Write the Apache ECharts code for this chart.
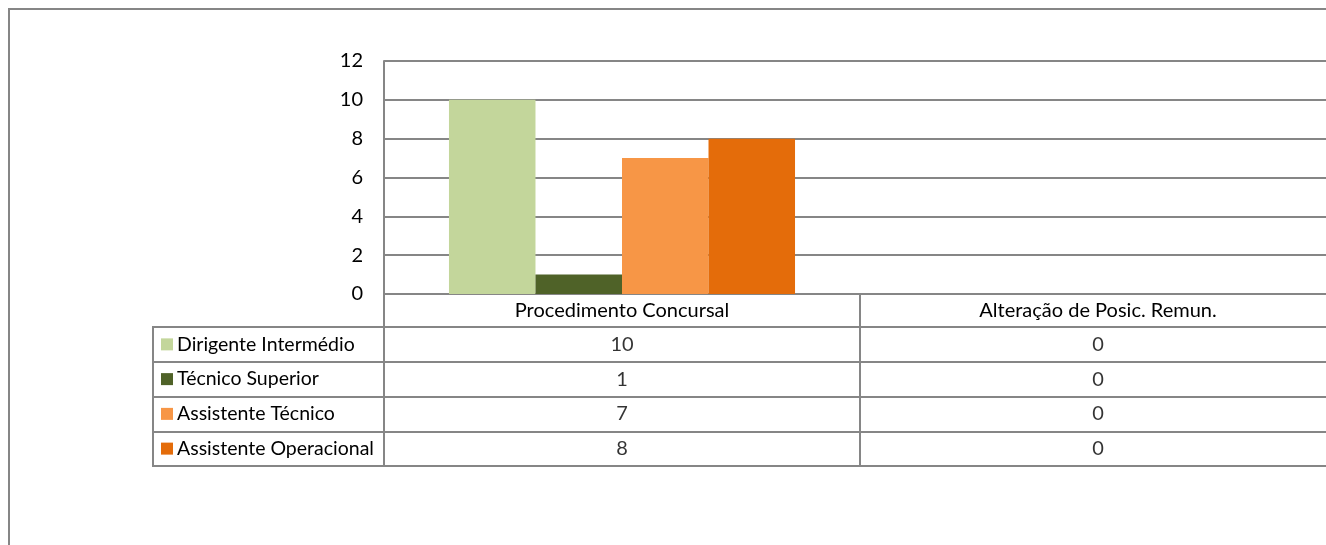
<!DOCTYPE html>
<html><head><meta charset="utf-8">
<script src="https://cdn.jsdelivr.net/npm/echarts@6/dist/echarts.min.js"></script>
<style>html,body{margin:0;padding:0;background:#fff}#c{width:1326px;height:545px}</style>
</head><body><div id="c"></div>
<script>
const categories = ['Procedimento Concursal', 'Alteração de Posic. Remun.'];
const seriesNames = ['Dirigente Intermédio', 'Técnico Superior', 'Assistente Técnico', 'Assistente Operacional'];
const dirigenteIntermedio = [10, 0];
const tecnicoSuperior = [1, 0];
const assistenteTecnico = [7, 0];
const assistenteOperacional = [8, 0];
const yTicks = [0, 2, 4, 6, 8, 10, 12];

const values = [dirigenteIntermedio, tecnicoSuperior, assistenteTecnico, assistenteOperacional];
const colors = ['#C3D69B', '#4F6228', '#F79646', '#E46C0A'];
const LINE = '#868686';
const FONT = 'Lato';
const FS = 20;

const tableData = [];
values.forEach((arr, r) => arr.forEach((v, c) => tableData.push([c, r, v])));

const rich = {t: {fontFamily: FONT, fontSize: 19.5, color: '#000', padding: [0, 0, 0, 4]}};
colors.forEach((c, i) => rich['s' + i] = {width: 12, height: 12, backgroundColor: c});

const chart = echarts.init(document.getElementById('c'));
chart.setOption({
  animation: false,
  textStyle: {fontFamily: FONT},
  graphic: [{type: 'rect', shape: {x: 9, y: 9, width: 1500, height: 700}, style: {fill: 'none', stroke: LINE, lineWidth: 2}, z: 100}],
  grid: [
    {left: 384, top: 61, width: 952, height: 233, outerBoundsMode: 'none', containLabel: false},
    {left: 384, top: 327, width: 952, height: 139, show: true, borderColor: LINE, borderWidth: 2, outerBoundsMode: 'none', containLabel: false},
    {left: 153, top: 327, width: 231, height: 139, show: true, borderColor: LINE, borderWidth: 2, outerBoundsMode: 'none', containLabel: false}
  ],
  xAxis: [
    {gridIndex: 0, type: 'category', data: categories,
     axisLine: {show: true, lineStyle: {color: LINE, width: 2}},
     axisTick: {show: true, length: 33, interval: 0, lineStyle: {color: LINE, width: 2}},
     axisLabel: {interval: 0, margin: 0, lineHeight: 34, fontSize: FS, color: '#000', fontFamily: FONT}},
    {gridIndex: 1, type: 'category', data: categories, show: true,
     axisLine: {show: false}, axisTick: {show: false}, axisLabel: {show: false},
     splitLine: {show: true, interval: 0, lineStyle: {color: LINE, width: 2}}},
    {gridIndex: 2, type: 'category', data: [''], show: false}
  ],
  yAxis: [
    {gridIndex: 0, type: 'value', min: 0, max: 12, interval: 2,
     axisLine: {show: true, lineStyle: {color: LINE, width: 2}},
     axisTick: {show: false},
     axisLabel: {margin: 21, fontSize: FS, color: '#000', fontFamily: FONT,
                 customValues: yTicks},
     splitLine: {show: true, lineStyle: {color: LINE, width: 2}}},
    {gridIndex: 1, type: 'category', data: seriesNames, inverse: true,
     axisLine: {show: true, lineStyle: {color: LINE, width: 2}},
     axisTick: {show: false}, axisLabel: {show: false},
     splitLine: {show: true, interval: 0, lineStyle: {color: LINE, width: 2}}},
    {gridIndex: 2, type: 'category', data: seriesNames, inverse: true,
     axisLine: {show: false}, axisTick: {show: false},
     axisLabel: {inside: true, margin: 8, interval: 0, align: 'left',
                 formatter: (v, i) => '{s' + i + '|}{t|' + v + '}', rich: rich},
     splitLine: {show: true, interval: 0, lineStyle: {color: LINE, width: 2}}}
  ],
  series: [
    ...seriesNames.map((n, i) => ({
      name: n, type: 'bar', xAxisIndex: 0, yAxisIndex: 0, data: values[i],
      itemStyle: {color: colors[i]}, barGap: '0%', barCategoryGap: '27.3%'
    })),
    {type: 'scatter', xAxisIndex: 1, yAxisIndex: 1, data: tableData,
     symbol: 'rect', symbolSize: 1, itemStyle: {color: 'rgba(0,0,0,0)'},
     encode: {x: 0, y: 1},
     label: {show: true, position: 'inside', formatter: p => String(p.value[2]),
             fontSize: FS, color: '#000', fontFamily: FONT}}
  ]
});
</script></body></html>
